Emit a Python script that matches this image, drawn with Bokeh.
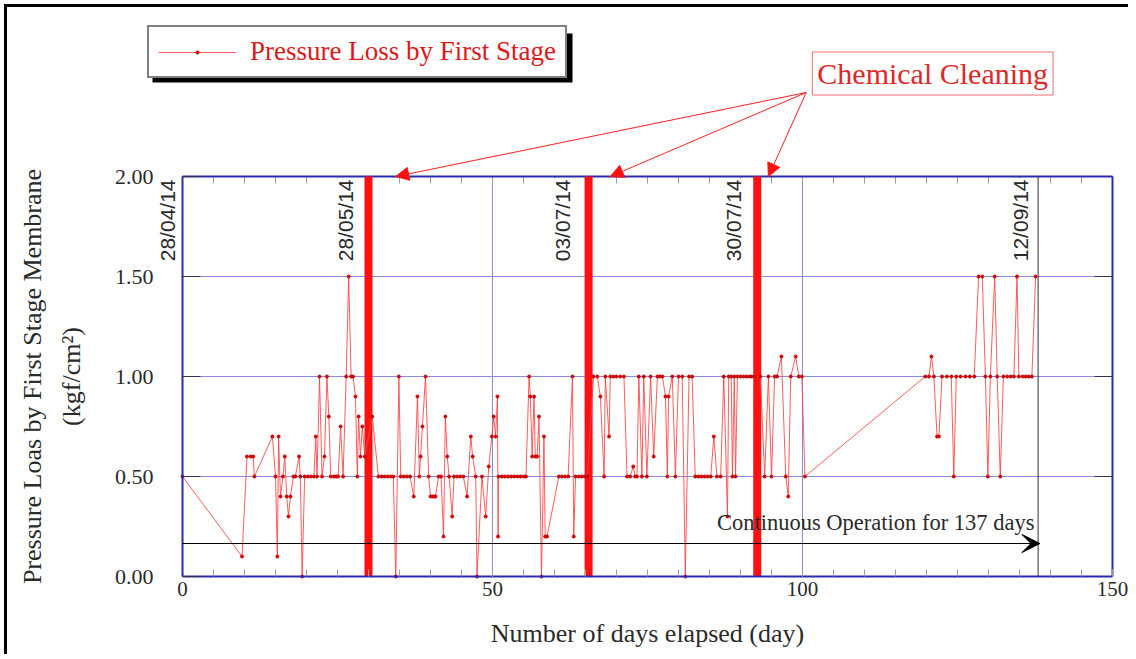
import math
from bokeh.plotting import figure
from bokeh.models import (Range1d, LinearAxis, FixedTicker, PrintfTickFormatter, Label,
                          Arrow, NormalHead, VeeHead, Legend, LegendItem, BoxAnnotation)
from bokeh.embed import file_html
from bokeh.resources import INLINE

# ---------------- data ----------------
days = [0.0, 9.6, 10.4, 11.0, 11.4, 11.6, 14.5, 15.0, 15.3, 15.5, 15.8, 16.2, 16.5, 16.8, 17.1,
        17.4, 17.9, 18.2, 18.8, 19.0, 19.3, 19.7, 20.2, 20.7, 21.2, 21.5, 21.7, 22.1, 22.5, 22.9,
        23.3, 23.6, 23.9, 24.4, 24.8, 25.1, 25.5, 25.9, 26.4, 26.8, 27.2, 27.5, 27.9, 28.2, 28.4,
        28.7, 29.0, 29.4, 30.6, 31.6, 32.1, 32.6, 33.1, 33.6, 34.0, 34.4, 34.9, 35.2, 35.7, 36.2,
        36.7, 37.3, 37.9, 38.2, 38.4, 38.7, 39.2, 39.7, 40.0, 40.3, 40.6, 40.8, 41.3, 41.7, 42.1,
        42.4, 42.7, 43.0, 43.5, 43.8, 44.3, 44.8, 45.3, 45.9, 46.5, 46.8, 47.3, 47.5, 48.3, 48.9,
        49.4, 49.9, 50.2, 50.5, 50.8, 50.9, 51.0, 51.5, 52.0, 52.5, 53.0, 53.5, 54.0, 54.5, 55.0,
        55.4, 55.9, 56.1, 56.4, 56.7, 56.9, 57.2, 57.5, 57.9, 58.3, 58.5, 58.8, 60.7, 61.2, 61.7,
        62.2, 62.9, 63.1, 63.4, 63.9, 64.4, 64.9, 65.3, 66.3, 66.9, 67.4, 68.0, 68.2, 68.8, 69.0,
        69.5, 70.0, 70.6, 71.2, 71.7, 72.2, 72.7, 73.0, 73.3, 73.6, 74.1, 74.4, 74.9, 75.5, 76.0,
        76.6, 77.0, 77.4, 77.9, 78.2, 78.4, 79.0, 79.5, 80.0, 80.6, 81.1, 81.7, 82.2, 82.7, 83.2,
        83.7, 84.2, 84.7, 85.2, 85.7, 86.2, 86.8, 87.3, 87.9, 88.1, 88.5, 88.7, 89.0, 89.2, 89.5,
        90.0, 90.5, 91.0, 91.5, 91.8, 92.3, 93.2, 93.9, 94.5, 95.0, 95.5, 95.9, 96.6, 97.3, 97.7,
        98.1, 98.9, 99.4, 99.9, 100.4, 119.8, 120.4, 120.8, 121.2, 121.7, 122.0, 122.5, 123.3,
        124.0, 124.4, 124.8, 125.5, 126.3, 127.0, 127.7, 128.4, 129.0, 129.5, 129.9, 130.3, 131.0,
        131.4, 131.9, 132.4, 133.0, 133.6, 134.1, 134.6, 134.9, 135.5, 136.0, 136.5, 137.0, 137.6]
pressure_loss = [0.5, 0.1, 0.6, 0.6, 0.6, 0.5, 0.7, 0.5, 0.1, 0.7, 0.4, 0.5, 0.6, 0.4, 0.3,
                 0.4, 0.5, 0.5, 0.6, 0.5, 0.0, 0.5, 0.5, 0.5, 0.5, 0.7, 0.5, 1.0, 0.5, 0.6,
                 1.0, 0.8, 0.5, 0.5, 0.5, 0.5, 0.75, 0.5, 1.0, 1.5, 1.0, 1.0, 0.9, 0.5, 0.8,
                 0.6, 0.75, 0.6, 0.8, 0.5, 0.5, 0.5, 0.5, 0.5, 0.5, 0.0, 1.0, 0.5, 0.5, 0.5,
                 0.5, 0.4, 0.9, 0.5, 0.6, 0.75, 1.0, 0.5, 0.4, 0.4, 0.4, 0.4, 0.5, 0.5, 0.2,
                 0.8, 0.6, 0.5, 0.3, 0.5, 0.5, 0.5, 0.5, 0.4, 0.7, 0.6, 0.5, 0.0, 0.5, 0.3,
                 0.55, 0.7, 0.8, 0.7, 0.9, 0.2, 0.5, 0.5, 0.5, 0.5, 0.5, 0.5, 0.5, 0.5, 0.5,
                 0.5, 1.0, 0.9, 0.6, 0.9, 0.6, 0.6, 0.8, 0.0, 0.7, 0.2, 0.2, 0.5, 0.5, 0.5,
                 0.5, 1.0, 0.2, 0.5, 0.5, 0.5, 0.5, 0.5, 1.0, 1.0, 0.9, 0.5, 1.0, 0.7, 1.0,
                 1.0, 1.0, 1.0, 1.0, 0.5, 0.5, 0.55, 0.5, 0.5, 1.0, 0.5, 1.0, 0.5, 1.0, 0.6,
                 1.0, 1.0, 1.0, 0.9, 0.5, 0.9, 1.0, 0.5, 1.0, 1.0, 0.0, 1.0, 1.0, 0.5, 0.5,
                 0.5, 0.5, 0.5, 0.5, 0.7, 0.5, 0.5, 1.0, 0.3, 1.0, 1.0, 0.5, 1.0, 0.5, 1.0,
                 1.0, 1.0, 1.0, 1.0, 1.0, 1.0, 1.0, 0.5, 1.0, 0.5, 1.0, 1.0, 1.1, 0.5, 0.4,
                 1.0, 1.1, 1.0, 1.0, 0.5, 1.0, 1.0, 1.1, 1.0, 0.7, 0.7, 1.0, 1.0,
                 1.0, 0.5, 1.0, 1.0, 1.0, 1.0, 1.0, 1.5, 1.5, 1.0, 0.5, 1.0, 1.5,
                 1.0, 0.5, 1.0, 1.0, 1.0, 1.0, 1.5, 1.0, 1.0, 1.0, 1.0, 1.0, 1.5]

cleaning_days = [30.0, 65.5, 92.7]
date_labels = ["28/04/14", "28/05/14", "03/07/14", "30/07/14", "12/09/14"]
date_label_days = [-2.4, 26.3, 61.3, 88.9, 135.2]
end_day = 138.0
x_ticks = [0, 50, 100, 150]
x_minor = list(range(0, 151, 5))
y_ticks = [0.0, 0.5, 1.0, 1.5, 2.0]
x_grid = [50, 100]
y_grid = [0.5, 1.0, 1.5]

# ---------------- layout (pixels) ----------------
W, H = 1124, 650                      # canvas size
FL, FR, FT, FB = 175, 1105, 169, 569  # plot box inside canvas
XMIN, XMAX, YMIN, YMAX = x_ticks[0], x_ticks[-1], y_ticks[0], y_ticks[-1]
sx = (FR - FL) / (XMAX - XMIN)
sy = (FB - FT) / (YMAX - YMIN)
x_range = Range1d(XMIN - FL / sx, XMAX + (W - FR) / sx)
y_range = Range1d(YMIN - (H - FB) / sy, YMAX + FT / sy)


def dx(cx):
    return XMIN + (cx - FL) / sx


def dy(cy):
    return YMIN + (FB - cy) / sy


SERIF = "Liberation Serif"
BLUE = "#2b2bb0"
GRID = "#8a8ae6"
TXT = "#2a2a2a"
TICK_GRAY = "#9a9aaa"
TICK_DARK = "#303050"

p = figure(width=W, height=H, output_backend="svg", toolbar_location=None,
           x_range=x_range, y_range=y_range, x_axis_type=None, y_axis_type=None,
           min_border=0, background_fill_color="white", border_fill_color="white")
p.outline_line_color = None
p.styles = {"margin-left": "4px", "margin-top": "4px",
            "border-left": "3px solid black", "border-top": "3px solid black"}
p.grid.visible = False

# grid lines
p.segment(x0=x_grid, y0=[YMIN] * len(x_grid), x1=x_grid, y1=[YMAX] * len(x_grid),
          line_color=GRID, line_width=1)
p.segment(x0=[XMIN] * len(y_grid), y0=y_grid, x1=[XMAX] * len(y_grid), y1=y_grid,
          line_color=GRID, line_width=1)

# ticks on the top and right edges (inward)
p.segment(x0=x_minor, y0=[YMAX] * len(x_minor), x1=x_minor,
          y1=[YMAX - 7 / sy] * len(x_minor), line_color=TICK_GRAY, line_width=1)
p.segment(x0=[XMAX] * len(y_ticks), y0=y_ticks, x1=[XMAX - 18 / sx] * len(y_ticks),
          y1=y_ticks, line_color=TICK_DARK, line_width=1)

# bottom axis
bottom_ax = LinearAxis(fixed_location=YMIN, bounds=(XMIN, XMAX))
bottom_ax.ticker = FixedTicker(ticks=x_ticks, minor_ticks=x_minor)
bottom_ax.axis_line_color = BLUE
bottom_ax.axis_line_width = 2
bottom_ax.major_tick_in = 7
bottom_ax.major_tick_out = 0
bottom_ax.minor_tick_in = 7
bottom_ax.minor_tick_out = 0
bottom_ax.major_tick_line_color = TICK_GRAY
bottom_ax.minor_tick_line_color = TICK_GRAY
bottom_ax.major_label_text_font = SERIF
bottom_ax.major_label_text_font_size = "21px"
bottom_ax.major_label_text_color = TXT
bottom_ax.major_label_standoff = 5
bottom_ax.axis_label = "Number of days elapsed (day)"
bottom_ax.axis_label_text_font = SERIF
bottom_ax.axis_label_text_font_style = "normal"
bottom_ax.axis_label_text_font_size = "26px"
bottom_ax.axis_label_text_color = TXT
bottom_ax.axis_label_standoff = 20
p.add_layout(bottom_ax, "below")

# left axis
left_ax = LinearAxis(fixed_location=XMIN, bounds=(YMIN, YMAX))
left_ax.ticker = FixedTicker(ticks=y_ticks)
left_ax.formatter = PrintfTickFormatter(format="%.2f")
left_ax.axis_line_color = BLUE
left_ax.axis_line_width = 2
left_ax.major_tick_in = 18
left_ax.major_tick_out = 0
left_ax.minor_tick_line_color = None
left_ax.major_tick_line_color = TICK_DARK
left_ax.major_label_text_font = SERIF
left_ax.major_label_text_font_size = "22px"
left_ax.major_label_text_color = TXT
left_ax.major_label_standoff = 29
left_ax.axis_label = "Pressure Loas by First Stage Membrane\n(kgf/cm\u00b2)"
left_ax.axis_label_text_font = SERIF
left_ax.axis_label_text_font_style = "normal"
left_ax.axis_label_text_font_size = "26px"
left_ax.axis_label_text_color = TXT
left_ax.axis_label_text_line_height = 1.35
left_ax.axis_label_standoff = 26
p.add_layout(left_ax, "left")

# frame lines on top and right
p.segment(x0=[XMIN, XMAX], y0=[YMAX, YMIN], x1=[XMAX, XMAX], y1=[YMAX, YMAX],
          line_color=BLUE, line_width=2)

# chemical cleaning bars and end-of-run line
p.segment(x0=cleaning_days, y0=[YMIN] * 3, x1=cleaning_days, y1=[YMAX] * 3,
          line_color="#ff1010", line_width=8)
p.segment(x0=[end_day], y0=[YMIN], x1=[end_day], y1=[YMAX], line_color="#333333", line_width=1)

# data series
r_line = p.line(days, pressure_loss, line_color="#ff4040", line_width=1, line_alpha=0.85)
r_pts = p.scatter(days, pressure_loss, size=3, fill_color="#d00000", line_color="#d00000")

# continuous operation arrow
p.add_layout(Arrow(x_start=XMIN, y_start=0.165, x_end=end_day + 0.3, y_end=0.165,
                   line_color="black", line_width=1,
                   end=VeeHead(size=18, fill_color="black", line_color="black")))
p.add_layout(Label(x=111.8, y=0.27, text="Continuous Operation for 137 days",
                   text_align="center", text_baseline="middle", text_font=SERIF,
                   text_font_size="22.5px", text_color=TXT))

# date labels
for d, t in zip(date_label_days, date_labels):
    p.add_layout(Label(x=d, y=1.99, text=t, angle=math.pi / 2, text_align="right",
                       text_baseline="middle", text_font="Liberation Sans",
                       text_font_size="21px", text_color=TXT,
                       background_fill_color="white", padding=1))

# chemical cleaning callout
p.add_layout(Label(x=121.0, y=2.515, text="Chemical Cleaning", text_align="center",
                   text_baseline="middle", text_font=SERIF, text_font_size="30px",
                   text_color="#e02828", background_fill_color="white",
                   border_line_color="#e87070", border_line_width=1, padding=5))
arrow_tip_days = [34.4, 69.0, 94.5]
for d in arrow_tip_days:
    p.add_layout(Arrow(x_start=100.6, y_start=2.42, x_end=d, y_end=2.0,
                       line_color="#ff2020", line_width=1,
                       end=NormalHead(size=13, fill_color="#ff1010", line_color="#ff1010")))

# legend with a drop shadow
LX, LY = 140, 579
p.add_layout(BoxAnnotation(left=dx(LX + 5), right=dx(LX + 425), top=dy(26), bottom=dy(75),
                           fill_color="black", fill_alpha=1, line_color=None))
legend = Legend(items=[LegendItem(label="Pressure Loss by First Stage", renderers=[r_line, r_pts])],
                location=(LX, LY), background_fill_color="white", background_fill_alpha=1,
                border_line_color="black", border_line_width=2, label_text_color="#e01818",
                label_text_font=SERIF, label_text_font_size="27px", glyph_width=78,
                glyph_height=8, label_height=28, label_standoff=14, padding=9,
                spacing=0, margin=0)
p.add_layout(legend, "center")

open("out.html", "w").write(file_html(p, INLINE))
